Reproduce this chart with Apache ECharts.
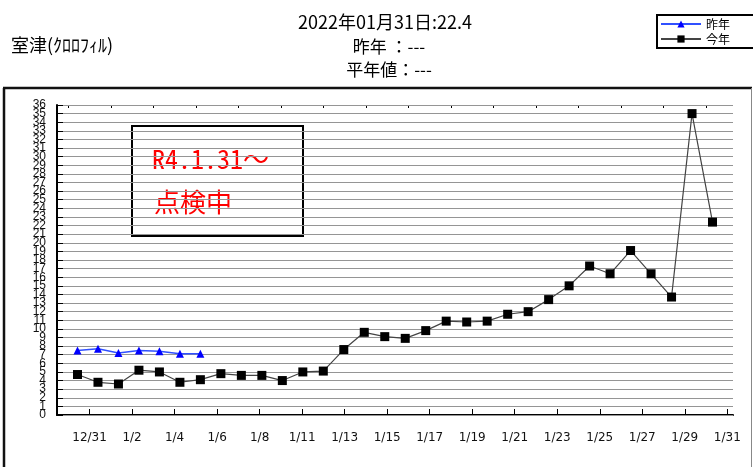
<!DOCTYPE html>
<html>
<head>
<meta charset="utf-8">
<script src="https://cdn.jsdelivr.net/npm/echarts@6/dist/echarts.min.js"></script>
<style>
  html, body { margin: 0; padding: 0; background: #fff; }
  #chart { width: 753px; height: 467px; }
</style>
</head>
<body>
<div id="chart"></div>
<script>
// 日付（目盛り用）
const dates = ['12/30', '12/31', '1/1', '1/2', '1/3', '1/4', '1/5', '1/6', '1/7', '1/8', '1/9',
  '1/11', '1/12', '1/13', '1/14', '1/15', '1/16', '1/17', '1/18', '1/19', '1/20', '1/21',
  '1/22', '1/23', '1/24', '1/25', '1/26', '1/27', '1/28', '1/29', '1/30', '1/31']

// 今年の値
const thisYear = [4.7, 3.8, 3.6, 5.2, 5.0, 3.8, 4.1, 4.8, 4.6, 4.6, 4.0, 5.0, 5.1,
  7.6, 9.6, 9.1, 8.9, 9.8, 10.9, 10.8, 10.9, 11.7, 12.0, 13.4, 15.0, 17.3, 16.4,
  19.1, 16.4, 13.7, 35.0, 22.4]

// 昨年の値
const lastYear = [7.5, 7.7, 7.2, 7.5, 7.4, 7.1, 7.1]

const yMin = 0
const yMax = 36

const chart = echarts.init(document.getElementById('chart'))

// x軸の目盛り（長い目盛り＋ラベル / 短い目盛り）
const tickAxis = (isMajor, len) => ({
  type: 'category',
  gridIndex: 1,
  data: dates,
  boundaryGap: false,
  axisLine: { show: false },
  axisTick: {
    show: true,
    inside: true,
    length: len,
    interval: (i) => (i % 2 === 1) === isMajor,
    lineStyle: { color: '#000', width: 1 }
  },
  axisLabel: {
    show: isMajor,
    interval: (i) => i % 2 === 1,
    margin: 17,
    fontFamily: 'DejaVu Sans',
    fontSize: 12,
    color: '#111'
  },
  splitLine: { show: false }
})

// y軸ラベル（偶数 / 奇数を別の軸で描いて重なりで消えないようにする）
const yLabel = (even) => ({
  margin: 11,
  showMinLabel: true,
  showMaxLabel: true,
  hideOverlap: false,
  fontFamily: '"Liberation Sans Narrow", "Liberation Sans", sans-serif',
  fontSize: 12,
  color: '#111',
  formatter: (v) => ((v % 2 === 0) === even ? String(v) : '')
})

chart.setOption({
  animation: false,
  textStyle: { fontFamily: '"Noto Sans CJK JP", sans-serif' },
  title: [
    { text: '2022年01月31日:22.4', left: 380, top: 8, textAlign: 'center',
      textStyle: { fontSize: 18, fontWeight: 'normal', color: '#000' } },
    { text: '昨年 ：---', left: 384, top: 33, textAlign: 'center',
      textStyle: { fontSize: 17, fontWeight: 'normal', color: '#000' } },
    { text: '平年値：---', left: 384, top: 56, textAlign: 'center',
      textStyle: { fontSize: 17, fontWeight: 'normal', color: '#000' } },
    { text: '室津(ｸﾛﾛﾌｨﾙ)', left: 6, top: 31,
      textStyle: { fontSize: 18, fontWeight: 'normal', color: '#000' } }
  ],
  legend: {
    data: ['昨年', '今年'],
    orient: 'vertical',
    left: 657,
    top: 15,
    itemWidth: 40,
    itemHeight: 9,
    itemGap: 3,
    padding: [3, 40, 3, 3],
    borderColor: '#000',
    borderWidth: 2,
    backgroundColor: '#fff',
    textStyle: { fontSize: 12, color: '#000' }
  },
  grid: [
    { left: 57, right: 20, top: 105, bottom: 52 },
    { left: 68.3, right: 25.7, top: 105, bottom: 52 }
  ],
  xAxis: [
    {
      type: 'value',
      gridIndex: 0,
      min: -1,
      max: 32,
      axisLine: { show: true, onZero: false, lineStyle: { color: '#000', width: 2 } },
      axisTick: { show: false },
      axisLabel: { show: false },
      splitLine: { show: false }
    },
    tickAxis(true, 6),
    tickAxis(false, 3)
  ],
  yAxis: [
    {
      type: 'value',
      gridIndex: 0,
      min: yMin,
      max: yMax,
      interval: 1,
      axisLine: { show: true, onZero: false, lineStyle: { color: '#000', width: 2 } },
      axisTick: { show: true, inside: true, length: 6, lineStyle: { color: '#000' } },
      axisLabel: yLabel(true),
      splitLine: { show: true, lineStyle: { color: '#959595', width: 1 } },
      z: 2
    },
    {
      type: 'value',
      gridIndex: 1,
      min: yMin,
      max: yMax,
      show: false
    },
    {
      type: 'value',
      gridIndex: 0,
      position: 'left',
      min: yMin,
      max: yMax,
      interval: 1,
      axisLine: { show: false, onZero: false },
      axisTick: { show: false },
      axisLabel: yLabel(false),
      splitLine: { show: false }
    }
  ],
  series: [
    {
      name: '昨年',
      type: 'line',
      xAxisIndex: 0,
      yAxisIndex: 0,
      data: lastYear.map((v, i) => [i, v]),
      symbol: 'triangle',
      symbolSize: 8,
      itemStyle: { color: '#0000ff' },
      lineStyle: { color: '#3050ff', width: 1.5 },
      z: 3
    },
    {
      name: '今年',
      type: 'line',
      xAxisIndex: 0,
      yAxisIndex: 0,
      data: thisYear.map((v, i) => [i, v]),
      symbol: 'rect',
      symbolSize: 9,
      itemStyle: { color: '#000' },
      lineStyle: { color: '#444', width: 1.2 },
      z: 3
    }
  ],
  graphic: [
    // 外枠
    { type: 'line', shape: { x1: 3, y1: 88, x2: 752, y2: 88 }, style: { stroke: '#111', lineWidth: 2.5 }, z: 1 },
    { type: 'line', shape: { x1: 4, y1: 88, x2: 4, y2: 470 }, style: { stroke: '#111', lineWidth: 2.5 }, z: 1 },
    { type: 'line', shape: { x1: 751.5, y1: 88, x2: 751.5, y2: 470 }, style: { stroke: '#888', lineWidth: 1 }, z: 1 },
    // 注記ボックス
    {
      type: 'group',
      left: 131,
      top: 125,
      z: 10,
      children: [
        { type: 'rect', shape: { x: 0, y: 0, width: 171, height: 110 },
          style: { fill: '#fff', stroke: '#000', lineWidth: 2 } },
        { type: 'text', x: 20, y: 33,
          style: { text: 'R4.1.31～', fill: '#ff0000', fontSize: 26,
            fontFamily: '"Noto Sans Mono CJK JP", "Noto Sans CJK JP", sans-serif',
            verticalAlign: 'middle' } },
        { type: 'text', x: 22, y: 76,
          style: { text: '点検中', fill: '#ff0000', fontSize: 26,
            fontFamily: '"Noto Sans CJK JP", sans-serif',
            verticalAlign: 'middle' } }
      ]
    }
  ]
})
</script>
</body>
</html>
